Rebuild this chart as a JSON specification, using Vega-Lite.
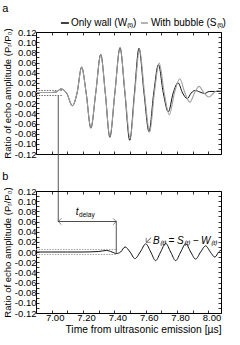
{
  "$schema": "https://vega.github.io/schema/vega-lite/v6.json",
  "padding": {"left": 1, "top": 2, "right": 8, "bottom": 8},
  "spacing": 37,
  "bounds": "flush",
  "config": {
    "font": "Liberation Sans",
    "view": {"stroke": "black", "strokeWidth": 1},
    "axis": {"grid": false, "domain": false, "tickColor": "black", "tickSize": -3, "tickWidth": 0.8, "labelFontSize": 9.5, "labelColor": "black", "titleFontSize": 9.5, "titleFontWeight": "normal", "titleColor": "black", "labelOverlap": false, "labelFlush": false},
    "title": {"fontSize": 11, "fontWeight": "normal", "anchor": "start", "frame": "bounds", "offset": 4, "color": "black"}
  },
  "datasets": {
    "W": [
      {"t": 6.9, "v": 0.001}, {"t": 6.96, "v": 0.001}, {"t": 7.0, "v": 0.001}, {"t": 7.03, "v": 0.002}, {"t": 7.058, "v": 0.008}, {"t": 7.095, "v": 0.0}, {"t": 7.132, "v": -0.025}, {"t": 7.162, "v": 0.0}, {"t": 7.191, "v": 0.051}, {"t": 7.22, "v": 0.0}, {"t": 7.25, "v": -0.069}, {"t": 7.281, "v": 0.0}, {"t": 7.313, "v": 0.076}, {"t": 7.342, "v": 0.0}, {"t": 7.371, "v": -0.087}, {"t": 7.403, "v": 0.0}, {"t": 7.436, "v": 0.089}, {"t": 7.467, "v": 0.0}, {"t": 7.498, "v": -0.093}, {"t": 7.528, "v": 0.0}, {"t": 7.557, "v": 0.088}, {"t": 7.589, "v": 0.0}, {"t": 7.621, "v": -0.076}, {"t": 7.651, "v": 0.0}, {"t": 7.681, "v": 0.056}, {"t": 7.712, "v": 0.0}, {"t": 7.744, "v": -0.037}, {"t": 7.775, "v": 0.0}, {"t": 7.806, "v": 0.02}, {"t": 7.835, "v": 0.0}, {"t": 7.865, "v": -0.011}, {"t": 7.89, "v": 0.0}, {"t": 7.915, "v": 0.005}, {"t": 7.945, "v": 0.002}, {"t": 7.975, "v": -0.001}, {"t": 8.005, "v": 0.003}, {"t": 8.04, "v": 0.003}, {"t": 8.08, "v": 0.003}
    ],
    "S": [
      {"t": 6.9, "v": 0.001}, {"t": 6.96, "v": 0.001}, {"t": 7.0, "v": 0.001}, {"t": 7.03, "v": 0.002}, {"t": 7.058, "v": 0.008}, {"t": 7.095, "v": 0.0}, {"t": 7.132, "v": -0.025}, {"t": 7.162, "v": 0.0}, {"t": 7.191, "v": 0.051}, {"t": 7.22, "v": 0.0}, {"t": 7.25, "v": -0.069}, {"t": 7.281, "v": 0.0}, {"t": 7.313, "v": 0.076}, {"t": 7.342, "v": 0.0}, {"t": 7.371, "v": -0.087}, {"t": 7.403, "v": 0.0}, {"t": 7.436, "v": 0.09}, {"t": 7.468, "v": 0.0}, {"t": 7.5, "v": -0.09}, {"t": 7.53, "v": 0.0}, {"t": 7.56, "v": 0.086}, {"t": 7.592, "v": 0.0}, {"t": 7.625, "v": -0.077}, {"t": 7.655, "v": 0.0}, {"t": 7.686, "v": 0.059}, {"t": 7.718, "v": 0.0}, {"t": 7.75, "v": -0.043}, {"t": 7.783, "v": 0.0}, {"t": 7.817, "v": 0.028}, {"t": 7.85, "v": 0.0}, {"t": 7.882, "v": -0.018}, {"t": 7.911, "v": 0.0}, {"t": 7.94, "v": 0.013}, {"t": 7.972, "v": 0.0}, {"t": 8.003, "v": -0.008}, {"t": 8.033, "v": 0.0}, {"t": 8.06, "v": 0.005}, {"t": 8.08, "v": 0.004}
    ],
    "B": [
      {"t": 6.9, "v": 0.0}, {"t": 7.0, "v": 0.0}, {"t": 7.1, "v": 0.0}, {"t": 7.2, "v": 0.0}, {"t": 7.3, "v": 0.001}, {"t": 7.35, "v": 0.003}, {"t": 7.385, "v": 0.0}, {"t": 7.412, "v": -0.003}, {"t": 7.44, "v": 0.0}, {"t": 7.468, "v": 0.01}, {"t": 7.5, "v": 0.0}, {"t": 7.531, "v": -0.013}, {"t": 7.565, "v": 0.0}, {"t": 7.6, "v": 0.016}, {"t": 7.632, "v": 0.0}, {"t": 7.663, "v": -0.017}, {"t": 7.695, "v": 0.0}, {"t": 7.727, "v": 0.017}, {"t": 7.759, "v": 0.0}, {"t": 7.791, "v": -0.017}, {"t": 7.823, "v": 0.0}, {"t": 7.855, "v": 0.016}, {"t": 7.887, "v": 0.0}, {"t": 7.918, "v": -0.014}, {"t": 7.95, "v": 0.0}, {"t": 7.982, "v": 0.012}, {"t": 8.012, "v": 0.0}, {"t": 8.041, "v": -0.01}, {"t": 8.065, "v": 0.0}, {"t": 8.08, "v": 0.004}
    ],
    "legSym": [{"t": 7.059, "t2": 7.11, "v": 0.1377, "series": "Only wall"}, {"t": 7.57, "t2": 7.614, "v": 0.1377, "series": "With bubble"}],
    "legText": [{"t": 7.123, "v": 0.1377, "label": "Only wall (W₍ₜ₎)"}, {"t": 7.633, "v": 0.1377, "label": "With bubble (S₍ₜ₎)"}],
    "dotA": [{"t": 6.9, "t2": 7.065, "v": 0.005}, {"t": 6.9, "t2": 7.065, "v": -0.005}],
    "vA": [{"t": 7.042, "v": -0.006, "v2": -0.2528}],
    "dotB": [{"t": 6.9, "t2": 7.412, "v": 0.005}, {"t": 6.9, "t2": 7.412, "v": -0.005}],
    "vB": [{"t": 7.412, "v": 0.06, "v2": -0.003}],
    "delay": [{"t": 7.042, "t2": 7.412, "v": 0.06}],
    "bArrow": [{"t": 7.634, "t2": 7.603, "v": 0.028, "v2": 0.019}],
    "heads": [{"t": 7.042, "v": 0.06, "dir": "left"}, {"t": 7.412, "v": 0.06, "dir": "right"}, {"t": 7.603, "v": 0.019, "dir": "downleft"}],
    "tLabel": [{"t": 7.163, "v": 0.078, "label": "t"}],
    "dLabel": [{"t": 7.175, "v": 0.072, "label": "delay"}],
    "bLabel": [{"t": 7.646, "v": 0.022, "label": "B₍ₜ₎ = S₍ₜ₎ − W₍ₜ₎"}],
    "one": [{"t": 7.0, "v": 0.0}]
  },
  "vconcat": [
    {
      "width": 185,
      "height": 122,
      "title": {"text": "a"},
      "layer": [
        {
          "encoding": {
            "x": {"field": "t", "type": "quantitative", "scale": {"domain": [6.9, 8.08], "nice": false, "zero": false},
              "axis": {"orient": "bottom", "values": [7.0, 7.1, 7.2, 7.3, 7.4, 7.5, 7.6, 7.7, 7.8, 7.9, 8.0], "labels": false, "title": null}},
            "y": {"field": "v", "type": "quantitative", "scale": {"domain": [-0.12, 0.12], "nice": false, "zero": false},
              "axis": {"orient": "left", "values": [-0.12, -0.11, -0.1, -0.09, -0.08, -0.07, -0.06, -0.05, -0.04, -0.03, -0.02, -0.01, 0, 0.01, 0.02, 0.03, 0.04, 0.05, 0.06, 0.07, 0.08, 0.09, 0.1, 0.11, 0.12],
                "labelExpr": "abs(round(datum.value*100))%2==1 ? '' : (datum.value < -0.0001 ? '-' : '') + format(abs(datum.value), '.2f')",
                "title": "Ratio of echo amplitude (Pᵣ/P₀)", "labelPadding": 3, "titlePadding": 2}}
          },
          "layer": [
            {"data": {"name": "dotA"}, "mark": {"type": "rule", "color": "#444", "strokeWidth": 0.8, "strokeDash": [1.5, 1.2]}, "encoding": {"x2": {"field": "t2"}}},
            {"data": {"name": "W"}, "mark": {"type": "line", "interpolate": "monotone", "strokeWidth": 1, "color": "#111111"}, "encoding": {}},
            {"data": {"name": "S"}, "mark": {"type": "line", "interpolate": "monotone", "strokeWidth": 1.1, "color": "#a0a0a0"}, "encoding": {}},
            {"data": {"name": "vA"}, "mark": {"type": "rule", "color": "#555", "strokeWidth": 1}, "encoding": {"y2": {"field": "v2"}}},
            {"data": {"name": "legSym"}, "mark": {"type": "rule", "strokeWidth": 1.6},
              "encoding": {"x2": {"field": "t2"}, "color": {"field": "series", "type": "nominal", "scale": {"domain": ["Only wall", "With bubble"], "range": ["#111111", "#a0a0a0"]}, "legend": null}}},
            {"data": {"name": "legText"}, "mark": {"type": "text", "fontSize": 10, "align": "left", "baseline": "middle", "color": "black"}, "encoding": {"text": {"field": "label"}}}
          ]
        },
        {
          "data": {"name": "one"},
          "mark": {"type": "point", "opacity": 0},
          "encoding": {
            "x": {"field": "t", "type": "quantitative", "scale": {"domain": [6.9, 8.08], "nice": false, "zero": false},
              "axis": {"orient": "top", "values": [7.0, 7.1, 7.2, 7.3, 7.4, 7.5, 7.6, 7.7, 7.8, 7.9, 8.0], "labels": false, "title": null}},
            "y": {"field": "v", "type": "quantitative", "scale": {"domain": [-0.12, 0.12], "nice": false, "zero": false},
              "axis": {"orient": "right", "values": [-0.12, -0.11, -0.1, -0.09, -0.08, -0.07, -0.06, -0.05, -0.04, -0.03, -0.02, -0.01, 0, 0.01, 0.02, 0.03, 0.04, 0.05, 0.06, 0.07, 0.08, 0.09, 0.1, 0.11, 0.12], "labels": false, "title": null}}
          }
        }
      ],
      "resolve": {"axis": {"x": "independent", "y": "independent"}}
    },
    {
      "width": 185,
      "height": 122,
      "title": {"text": "b"},
      "layer": [
        {
          "encoding": {
            "x": {"field": "t", "type": "quantitative", "scale": {"domain": [6.9, 8.08], "nice": false, "zero": false},
              "axis": {"orient": "bottom", "values": [7.0, 7.1, 7.2, 7.3, 7.4, 7.5, 7.6, 7.7, 7.8, 7.9, 8.0],
                "labelExpr": "round(datum.value*10)%2==0 ? format(datum.value, '.2f') : ''",
                "title": "Time from ultrasonic emission [µs]", "titleFontSize": 10.3, "titleAnchor": "end", "labelPadding": 2, "labelOffset": 3, "titlePadding": 3}},
            "y": {"field": "v", "type": "quantitative", "scale": {"domain": [-0.12, 0.12], "nice": false, "zero": false},
              "axis": {"orient": "left", "values": [-0.12, -0.11, -0.1, -0.09, -0.08, -0.07, -0.06, -0.05, -0.04, -0.03, -0.02, -0.01, 0, 0.01, 0.02, 0.03, 0.04, 0.05, 0.06, 0.07, 0.08, 0.09, 0.1, 0.11, 0.12],
                "labelExpr": "abs(round(datum.value*100))%2==1 ? '' : (datum.value < -0.0001 ? '-' : '') + format(abs(datum.value), '.2f')",
                "title": "Ratio of echo amplitude (Pᵣ/P₀)", "labelPadding": 3, "titlePadding": 2}}
          },
          "layer": [
            {"data": {"name": "dotB"}, "mark": {"type": "rule", "color": "#888", "strokeWidth": 0.8, "strokeDash": [1.5, 1.2]}, "encoding": {"x2": {"field": "t2"}}},
            {"data": {"name": "B"}, "mark": {"type": "line", "interpolate": "monotone", "strokeWidth": 1, "color": "#111111"}, "encoding": {}},
            {"data": {"name": "vB"}, "mark": {"type": "rule", "color": "#555", "strokeWidth": 1}, "encoding": {"y2": {"field": "v2"}}},
            {"data": {"name": "delay"}, "mark": {"type": "rule", "color": "#222", "strokeWidth": 0.8}, "encoding": {"x2": {"field": "t2"}}},
            {"data": {"name": "bArrow"}, "mark": {"type": "rule", "color": "#222", "strokeWidth": 0.8}, "encoding": {"x2": {"field": "t2"}, "y2": {"field": "v2"}}},
            {"data": {"name": "heads"}, "mark": {"type": "point", "filled": false, "stroke": "#222", "strokeWidth": 0.8, "size": 40},
              "encoding": {"shape": {"field": "dir", "type": "nominal", "scale": {"domain": ["left", "right", "downleft"], "range": ["M1,-1L0,0L1,1", "M-1,-1L0,0L-1,1", "M0,-1.4L0,0L1.4,0"]}, "legend": null}}},
            {"data": {"name": "tLabel"}, "mark": {"type": "text", "fontSize": 10, "fontStyle": "italic", "align": "center", "baseline": "middle", "color": "black"}, "encoding": {"text": {"field": "label"}}},
            {"data": {"name": "dLabel"}, "mark": {"type": "text", "fontSize": 6.5, "align": "left", "baseline": "middle", "color": "black"}, "encoding": {"text": {"field": "label"}}},
            {"data": {"name": "bLabel"}, "mark": {"type": "text", "fontSize": 10, "fontStyle": "italic", "align": "left", "baseline": "middle", "color": "black"}, "encoding": {"text": {"field": "label"}}}
          ]
        },
        {
          "data": {"name": "one"},
          "mark": {"type": "point", "opacity": 0},
          "encoding": {
            "x": {"field": "t", "type": "quantitative", "scale": {"domain": [6.9, 8.08], "nice": false, "zero": false},
              "axis": {"orient": "top", "values": [7.0, 7.1, 7.2, 7.3, 7.4, 7.5, 7.6, 7.7, 7.8, 7.9, 8.0], "labels": false, "title": null}},
            "y": {"field": "v", "type": "quantitative", "scale": {"domain": [-0.12, 0.12], "nice": false, "zero": false},
              "axis": {"orient": "right", "values": [-0.12, -0.11, -0.1, -0.09, -0.08, -0.07, -0.06, -0.05, -0.04, -0.03, -0.02, -0.01, 0, 0.01, 0.02, 0.03, 0.04, 0.05, 0.06, 0.07, 0.08, 0.09, 0.1, 0.11, 0.12], "labels": false, "title": null}}
          }
        }
      ],
      "resolve": {"axis": {"x": "independent", "y": "independent"}}
    }
  ]
}
